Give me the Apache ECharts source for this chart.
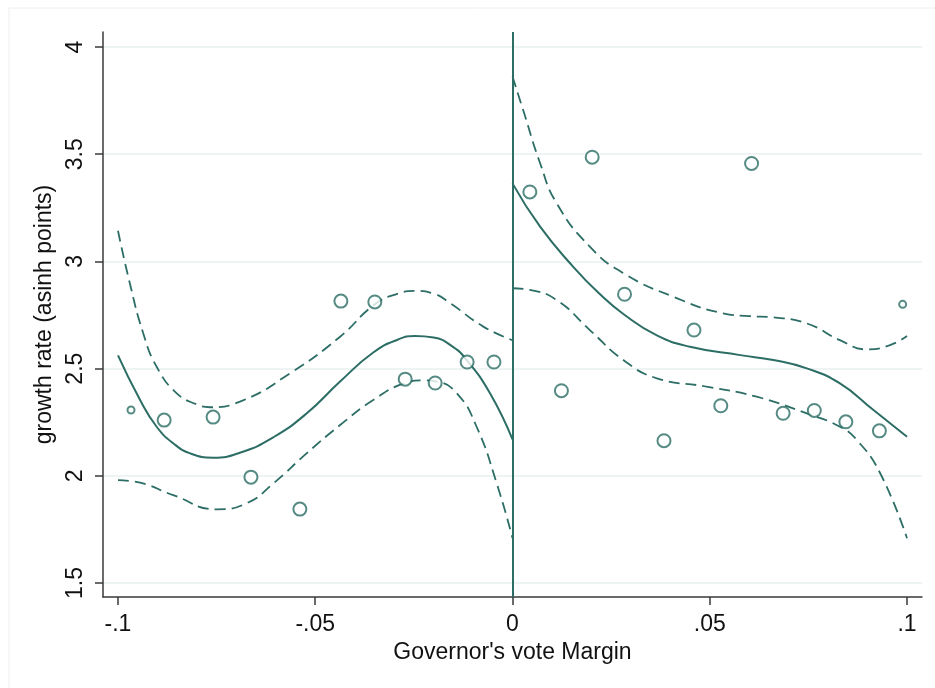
<!DOCTYPE html>
<html>
<head>
<meta charset="utf-8">
<script src="https://cdn.jsdelivr.net/npm/echarts@6/dist/echarts.min.js"></script>
<style>
html, body { margin: 0; padding: 0; background: #fff; }
#chart { width: 935px; height: 688px; }
</style>
</head>
<body>
<div id="chart"></div>
<script>
// 刻度
const xTicks = [-0.1, -0.05, 0, 0.05, 0.1];
const yTicks = [1.5, 2, 2.5, 3, 3.5, 4];

// 散点 (bin 均值)
const leftPts = [
  [-0.0883, 2.260], [-0.0759, 2.274], [-0.0663, 1.994], [-0.0539, 1.845],
  [-0.0435, 2.815], [-0.0349, 2.811], [-0.0272, 2.451], [-0.0196, 2.433],
  [-0.0115, 2.531], [-0.0047, 2.531]
];
const rightPts = [
  [0.0044, 3.324], [0.0124, 2.397], [0.0202, 3.486], [0.0284, 2.847],
  [0.0384, 2.164], [0.0460, 2.680], [0.0528, 2.327], [0.0606, 3.457],
  [0.0686, 2.292], [0.0765, 2.305], [0.0845, 2.252], [0.0930, 2.210]
];
const smallPts = [[-0.0967, 2.307], [0.0989, 2.800]];

// 拟合曲线 (左侧)
const leftFit = [
  [-0.1, 2.562], [-0.0944, 2.354], [-0.0902, 2.229], [-0.0860, 2.152],
  [-0.0817, 2.105], [-0.0758, 2.085], [-0.0691, 2.108], [-0.0606, 2.180],
  [-0.0522, 2.291], [-0.0437, 2.440], [-0.0353, 2.575], [-0.0290, 2.636],
  [-0.0247, 2.652], [-0.0200, 2.645], [-0.0150, 2.600], [-0.0116, 2.540],
  [-0.0057, 2.385], [0, 2.170]
];
const leftUpper = [
  [-0.1, 3.143], [-0.0970, 2.898], [-0.0936, 2.665], [-0.0902, 2.509],
  [-0.0851, 2.385], [-0.0800, 2.333], [-0.0767, 2.320], [-0.0691, 2.346],
  [-0.0564, 2.478], [-0.0437, 2.649], [-0.0349, 2.800], [-0.0290, 2.850],
  [-0.0247, 2.863], [-0.0200, 2.850], [-0.0158, 2.805], [-0.0074, 2.696],
  [0, 2.633]
];
const leftLower = [
  [-0.1, 1.980], [-0.0944, 1.968], [-0.0860, 1.910], [-0.0750, 1.844],
  [-0.0674, 1.872], [-0.0606, 1.965], [-0.0522, 2.105], [-0.0437, 2.237],
  [-0.0353, 2.354], [-0.0272, 2.433], [-0.0230, 2.445], [-0.0192, 2.439],
  [-0.0141, 2.385], [-0.0091, 2.229], [-0.0040, 1.965], [0, 1.710]
];

// 拟合曲线 (右侧)
const rightFit = [
  [0, 3.364], [0.0070, 3.162], [0.0154, 2.975], [0.0220, 2.850],
  [0.0281, 2.755], [0.0366, 2.655], [0.0450, 2.602], [0.0577, 2.563],
  [0.0661, 2.540], [0.0746, 2.501], [0.0830, 2.431], [0.0915, 2.307],
  [0.1, 2.182]
];
const rightUpper = [
  [0, 3.862], [0.0027, 3.706], [0.0070, 3.458], [0.0112, 3.271],
  [0.0196, 3.069], [0.0281, 2.945], [0.0408, 2.835], [0.0534, 2.758],
  [0.0600, 2.745], [0.0661, 2.739], [0.0746, 2.711], [0.0830, 2.633],
  [0.0898, 2.590], [0.0957, 2.610], [0.1, 2.652]
];
const rightLower = [
  [0, 2.875], [0.0044, 2.867], [0.0112, 2.820], [0.0196, 2.680],
  [0.0281, 2.540], [0.0366, 2.455], [0.0492, 2.416], [0.0619, 2.369],
  [0.0746, 2.291], [0.0830, 2.229], [0.0873, 2.167], [0.0932, 2.012],
  [0.1, 1.709]
];

const teal = '#2c6e65';
const font = 'Liberation Sans, Arial, sans-serif';

let myChart = echarts.init(document.getElementById('chart'), null, {renderer: 'canvas'});

function fitLine (data, dashed) {
  return {
    type: 'line',
    data: data,
    smooth: 0.5,
    showSymbol: false,
    silent: true,
    lineStyle: {
      color: teal,
      width: dashed ? 1.8 : 2,
      type: dashed ? [11, 6] : 'solid'
    },
    z: 3
  };
}

function dots (data, size) {
  return {
    type: 'scatter',
    data: data,
    symbol: 'emptyCircle',
    symbolSize: size,
    itemStyle: {color: teal, borderColor: teal, borderWidth: 2},
    z: 4
  };
}

let option = {
  backgroundColor: '#fff',
  animation: false,
  graphic: [{
    type: 'rect',
    shape: {x: 9, y: 8, width: 960, height: 720},
    style: {fill: 'none', stroke: '#eeeeee', lineWidth: 1},
    silent: true
  }],
  grid: {left: 103, top: 32, right: 13, bottom: 91},
  xAxis: {
    type: 'value',
    min: -0.1038,
    max: 0.1038,
    name: "Governor's vote Margin",
    nameLocation: 'middle',
    nameGap: 44,
    nameTextStyle: {fontFamily: font, fontSize: 23, color: '#111'},
    axisLine: {show: true, onZero: false, lineStyle: {color: '#3a3a3a', width: 1.5}},
    axisTick: {show: true, length: 8, customValues: xTicks, lineStyle: {color: '#3a3a3a', width: 1.5}},
    axisLabel: {
      customValues: xTicks,
      margin: 16,
      fontFamily: font, fontSize: 23, color: '#111',
      formatter: v => String(+v.toFixed(2)).replace('0.', '.')
    },
    splitLine: {show: false}
  },
  yAxis: {
    type: 'value',
    min: 1.435,
    max: 4.07,
    name: 'growth rate (asinh points)',
    nameLocation: 'middle',
    nameGap: 36,
    nameTextStyle: {fontFamily: font, fontSize: 23, color: '#111'},
    axisLine: {show: true, onZero: false, lineStyle: {color: '#3a3a3a', width: 1.5}},
    axisTick: {show: true, length: 8, customValues: yTicks, lineStyle: {color: '#3a3a3a', width: 1.5}},
    axisLabel: {
      customValues: yTicks,
      rotate: 90,
      margin: 16,
      fontFamily: font, fontSize: 23, color: '#111',
      formatter: v => String(v)
    },
    splitLine: {show: true, lineStyle: {color: '#e8f1f1', width: 1.5}}
  },
  series: [
    fitLine(leftFit, false),
    fitLine(leftUpper, true),
    fitLine(leftLower, true),
    fitLine(rightFit, false),
    fitLine(rightUpper, true),
    fitLine(rightLower, true),
    dots(leftPts, 13),
    dots(rightPts, 13),
    dots(smallPts, 7),
    {
      type: 'line',
      data: [],
      markLine: {
        silent: true,
        symbol: ['none', 'none'],
        label: {show: false},
        lineStyle: {color: teal, width: 2, type: 'solid'},
        data: [{xAxis: 0}]
      }
    }
  ]
};

myChart.setOption(option, true);
</script>
</body>
</html>
